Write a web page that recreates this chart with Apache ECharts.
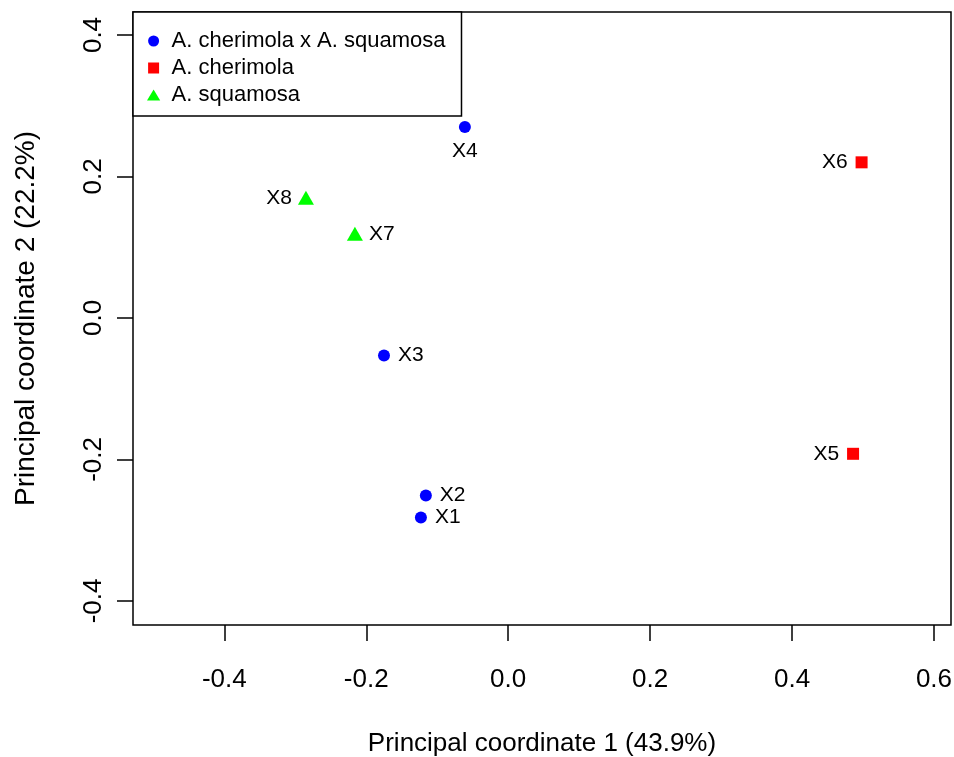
<!DOCTYPE html>
<html>
<head>
<meta charset="utf-8">
<script src="https://cdn.jsdelivr.net/npm/echarts@6/dist/echarts.min.js"></script>
<style>
  html, body { margin: 0; padding: 0; background: #fff; }
  #chart { width: 954px; height: 757px; }
</style>
</head>
<body>
<div id="chart"></div>
<script>
// ---- data ----
const pointNames = ['X1', 'X2', 'X3', 'X4', 'X5', 'X6', 'X7', 'X8'];
const pc1Values  = [-0.123, -0.116, -0.175, -0.061, 0.486, 0.498, -0.216, -0.285];
const pc2Values  = [-0.282, -0.251, -0.053, 0.270, -0.192, 0.220, 0.119, 0.170];
const groupNames = ['A. cherimola x A. squamosa', 'A. cherimola', 'A. squamosa'];
const pointGroup = [0, 0, 0, 0, 1, 1, 2, 2];
const xTickValues = [-0.4, -0.2, 0.0, 0.2, 0.4, 0.6];
const yTickValues = [-0.4, -0.2, 0.0, 0.2, 0.4];
const xTitle = 'Principal coordinate 1 (43.9%)';
const yTitle = 'Principal coordinate 2 (22.2%)';

// ---- styling ----
const FONT = '"Liberation Sans", Arial, sans-serif';
const groupColors  = ['#0000FF', '#FF0000', '#00FF00'];
const groupSymbols = ['circle', 'rect', 'triangle'];
const legendIcons  = ['circle', 'path://M0,0L10,0L10,10L0,10Z', 'path://M6,0L12,10L0,10Z'];
const groupSizes   = [12, 12, [16, 14]];
const labelSide = { X1: 'right', X2: 'right', X3: 'right', X4: 'bottom',
                    X5: 'left', X6: 'left', X7: 'right', X8: 'left' };

const series = groupNames.map((g, gi) => {
  const data = [];
  pointNames.forEach((n, i) => {
    if (pointGroup[i] !== gi) return;
    const side = labelSide[n];
    const half = Array.isArray(groupSizes[gi]) ? groupSizes[gi][0] / 2 : groupSizes[gi] / 2;
    data.push({
      name: n,
      value: [pc1Values[i], pc2Values[i]],
      label: {
        position: side,
        distance: side === 'bottom' ? 8 : 14 - half
      }
    });
  });
  return {
    name: g,
    type: 'scatter',
    symbol: groupSymbols[gi],
    symbolSize: groupSizes[gi],
    itemStyle: { color: groupColors[gi], opacity: 1 },
    label: {
      show: true,
      formatter: p => p.name,
      color: '#000',
      fontFamily: FONT,
      fontSize: 21
    },
    emphasis: { disabled: true },
    data: data
  };
});

const chart = echarts.init(document.getElementById('chart'), null, { renderer: 'canvas' });
chart.setOption({
  backgroundColor: '#fff',
  animation: false,
  grid: {
    left: 133, top: 12, width: 818, height: 613,
    outerBoundsMode: 'none',
    containLabel: false,
    show: true, borderColor: '#000', borderWidth: 1.5, backgroundColor: 'transparent'
  },
  legend: {
    orient: 'vertical',
    left: 133, top: 12,
    padding: [16, 16, 8, 14],
    itemGap: 1,
    itemWidth: 26,
    itemHeight: 11,
    symbolKeepAspect: true,
    borderColor: '#000',
    borderWidth: 1.5,
    backgroundColor: '#fff',
    selectedMode: false,
    textStyle: { color: '#000', fontFamily: FONT, fontSize: 22, lineHeight: 26 },
    data: groupNames.map((g, gi) => ({ name: g, icon: legendIcons[gi] }))
  },
  xAxis: {
    type: 'value',
    min: -0.5287, max: 0.624,
    axisLine: { show: false, onZero: false },
    splitLine: { show: false },
    axisTick: { show: true, length: 16, inside: false, customValues: xTickValues,
                lineStyle: { color: '#000', width: 1.5 } },
    axisLabel: { customValues: xTickValues, formatter: v => v.toFixed(1),
                 color: '#000', fontFamily: FONT, fontSize: 26, margin: 42 },
    name: xTitle,
    nameLocation: 'middle',
    nameGap: 106,
    nameTextStyle: { color: '#000', fontFamily: FONT, fontSize: 26 }
  },
  yAxis: {
    type: 'value',
    min: -0.434, max: 0.4325,
    axisLine: { show: false, onZero: false },
    splitLine: { show: false },
    axisTick: { show: true, length: 16, inside: false, customValues: yTickValues,
                lineStyle: { color: '#000', width: 1.5 } },
    axisLabel: { customValues: yTickValues, formatter: v => v.toFixed(1), rotate: 90,
                 color: '#000', fontFamily: FONT, fontSize: 26, margin: 26 },
    name: yTitle,
    nameLocation: 'middle',
    nameRotate: 90,
    nameGap: 93,
    nameTextStyle: { color: '#000', fontFamily: FONT, fontSize: 28 }
  },
  series: series
});
</script>
</body>
</html>
